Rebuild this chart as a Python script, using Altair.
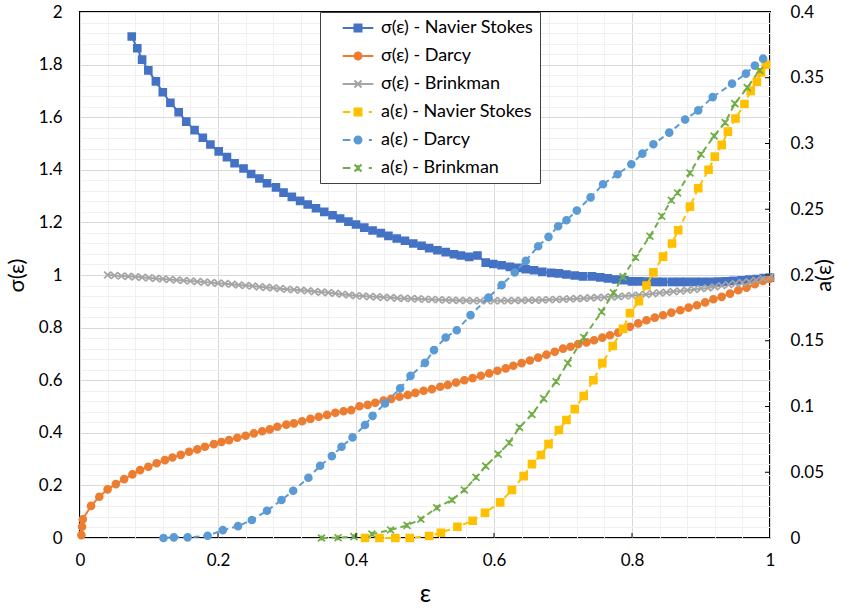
import altair as alt
import pandas as pd

FONT = "Lato"
W, H = 690, 526

SERIES = [
    "σ(ε) - Navier Stokes",
    "σ(ε) - Darcy",
    "σ(ε) - Brinkman",
    "a(ε) - Navier Stokes",
    "a(ε) - Darcy",
    "a(ε) - Brinkman",
]
COLORS = ["#4472C4", "#ED7D31", "#A5A5A5", "#FFC000", "#5B9BD5", "#70AD47"]

# ---- σ(ε), left axis ----
ns_sigma_eps = [0.075, 0.083, 0.090, 0.099, 0.110, 0.120, 0.131, 0.143, 0.154, 0.166,
                0.178, 0.189, 0.201, 0.213, 0.224, 0.237, 0.248, 0.260, 0.271, 0.284,
                0.295, 0.307, 0.319, 0.330, 0.342, 0.354, 0.366, 0.377, 0.389, 0.400,
                0.412, 0.424, 0.436, 0.447, 0.459, 0.471, 0.483, 0.495, 0.506, 0.518,
                0.530, 0.542, 0.552, 0.564, 0.576, 0.588, 0.599, 0.611, 0.623, 0.635,
                0.646, 0.658, 0.670, 0.683, 0.694, 0.705, 0.717, 0.729, 0.742, 0.754,
                0.765, 0.777, 0.789, 0.800, 0.812, 0.824, 0.835, 0.845, 0.858, 0.869,
                0.879, 0.891, 0.902, 0.913, 0.925, 0.936, 0.947, 0.959, 0.970, 0.981,
                0.991, 1.000]
ns_sigma_val = [1.907, 1.862, 1.819, 1.778, 1.736, 1.695, 1.655, 1.619, 1.583, 1.551,
                1.522, 1.496, 1.470, 1.448, 1.425, 1.405, 1.384, 1.367, 1.349, 1.333,
                1.313, 1.297, 1.282, 1.268, 1.254, 1.240, 1.227, 1.215, 1.203, 1.192,
                1.180, 1.169, 1.159, 1.149, 1.139, 1.130, 1.120, 1.111, 1.102, 1.094,
                1.087, 1.079, 1.074, 1.069, 1.074, 1.047, 1.042, 1.037, 1.031, 1.027,
                1.022, 1.018, 1.012, 1.008, 1.006, 1.002, 0.998, 0.995, 0.995, 0.991,
                0.987, 0.983, 0.980, 0.976, 0.976, 0.975, 0.974, 0.974, 0.974, 0.974,
                0.974, 0.974, 0.974, 0.974, 0.975, 0.976, 0.978, 0.980, 0.983, 0.985,
                0.988, 0.990]

darcy_sigma_eps = [0.002, 0.003, 0.004, 0.016, 0.028, 0.040, 0.052, 0.064, 0.076, 0.087,
                   0.099, 0.111, 0.123, 0.134, 0.146, 0.158, 0.170, 0.181, 0.194, 0.205,
                   0.216, 0.228, 0.240, 0.252, 0.264, 0.275, 0.286, 0.299, 0.310, 0.322,
                   0.334, 0.346, 0.358, 0.370, 0.382, 0.393, 0.405, 0.417, 0.428, 0.440,
                   0.451, 0.463, 0.475, 0.486, 0.498, 0.510, 0.522, 0.533, 0.545, 0.557,
                   0.569, 0.581, 0.593, 0.605, 0.617, 0.628, 0.640, 0.652, 0.664, 0.676,
                   0.688, 0.700, 0.711, 0.722, 0.734, 0.745, 0.757, 0.768, 0.780, 0.797,
                   0.809, 0.821, 0.833, 0.845, 0.857, 0.870, 0.882, 0.894, 0.906, 0.918,
                   0.930, 0.942, 0.954, 0.966, 0.978, 0.990, 1.000]
darcy_sigma_val = [0.011, 0.043, 0.071, 0.122, 0.157, 0.185, 0.205, 0.224, 0.242, 0.258,
                   0.271, 0.284, 0.296, 0.306, 0.316, 0.328, 0.337, 0.347, 0.357, 0.365,
                   0.372, 0.381, 0.389, 0.398, 0.406, 0.413, 0.423, 0.431, 0.436, 0.444,
                   0.453, 0.461, 0.468, 0.476, 0.482, 0.486, 0.501, 0.506, 0.514, 0.523,
                   0.529, 0.537, 0.544, 0.552, 0.560, 0.566, 0.575, 0.582, 0.591, 0.600,
                   0.608, 0.617, 0.626, 0.636, 0.645, 0.655, 0.665, 0.675, 0.686, 0.697,
                   0.708, 0.720, 0.727, 0.737, 0.744, 0.752, 0.762, 0.771, 0.781, 0.803,
                   0.816, 0.828, 0.838, 0.847, 0.857, 0.866, 0.876, 0.885, 0.896, 0.908,
                   0.917, 0.929, 0.942, 0.952, 0.965, 0.977, 0.986]

brink_sigma_eps = [round(0.04 + 0.01 * i, 2) for i in range(97)]
brink_sigma_val = [1.000, 0.998, 0.996, 0.995, 0.993, 0.991, 0.989, 0.987, 0.985, 0.983,
                   0.981, 0.979, 0.977, 0.975, 0.973, 0.971, 0.969, 0.967, 0.965, 0.962,
                   0.960, 0.958, 0.955, 0.953, 0.951, 0.948, 0.946, 0.944, 0.942, 0.940,
                   0.937, 0.935, 0.933, 0.930, 0.927, 0.924, 0.921, 0.920, 0.918, 0.917,
                   0.915, 0.914, 0.912, 0.911, 0.910, 0.909, 0.908, 0.907, 0.906, 0.905,
                   0.904, 0.903, 0.903, 0.902, 0.902, 0.902, 0.902, 0.902, 0.902, 0.903,
                   0.903, 0.904, 0.904, 0.905, 0.906, 0.907, 0.908, 0.909, 0.910, 0.911,
                   0.913, 0.914, 0.915, 0.917, 0.918, 0.920, 0.922, 0.924, 0.926, 0.929,
                   0.932, 0.934, 0.937, 0.939, 0.942, 0.945, 0.948, 0.951, 0.955, 0.959,
                   0.963, 0.967, 0.971, 0.975, 0.980, 0.986, 0.992]

# ---- a(ε), right axis ----
ns_a_eps = [0.413, 0.434, 0.457, 0.478, 0.506, 0.523, 0.547, 0.569, 0.587, 0.609,
            0.626, 0.643, 0.655, 0.668, 0.679, 0.694, 0.705, 0.717, 0.730, 0.744,
            0.757, 0.772, 0.787, 0.797, 0.810, 0.821, 0.831, 0.845, 0.858, 0.867,
            0.884, 0.896, 0.911, 0.920, 0.930, 0.939, 0.950, 0.963, 0.972, 0.981,
            0.987, 0.994]
ns_a_val = [0.000, 0.000, 0.000, 0.000, 0.0015, 0.004, 0.0086, 0.0131, 0.0192, 0.0271,
            0.0365, 0.0471, 0.0562, 0.0631, 0.0714, 0.0821, 0.0897, 0.098, 0.108, 0.120,
            0.133, 0.146, 0.159, 0.171, 0.180, 0.192, 0.202, 0.214, 0.224, 0.234,
            0.252, 0.266, 0.280, 0.290, 0.299, 0.309, 0.319, 0.330, 0.340, 0.347,
            0.354, 0.360]

darcy_a_eps = [0.121, 0.136, 0.156, 0.185, 0.207, 0.229, 0.249, 0.271, 0.292, 0.309,
               0.331, 0.348, 0.365, 0.379, 0.395, 0.413, 0.424, 0.442, 0.464, 0.479,
               0.500, 0.513, 0.530, 0.546, 0.566, 0.592, 0.611, 0.630, 0.646, 0.664,
               0.679, 0.693, 0.705, 0.720, 0.740, 0.758, 0.779, 0.799, 0.815, 0.831,
               0.854, 0.877, 0.896, 0.917, 0.945, 0.965, 0.978, 0.990]
darcy_a_val = [0.000, 0.0005, 0.0005, 0.0017, 0.006, 0.009, 0.0137, 0.0207, 0.0289, 0.0359,
               0.0458, 0.0549, 0.0623, 0.0694, 0.0765, 0.0859, 0.0929, 0.1023, 0.1138, 0.1233,
               0.1332, 0.1429, 0.1525, 0.158, 0.1695, 0.1829, 0.1923, 0.2019, 0.2107, 0.2219,
               0.2290, 0.2371, 0.2416, 0.249, 0.259, 0.269, 0.2766, 0.2842, 0.2923, 0.2994,
               0.3083, 0.3182, 0.3252, 0.3353, 0.3455, 0.3531, 0.3592, 0.3645]

brink_a_eps = [0.350, 0.374, 0.397, 0.423, 0.450, 0.474, 0.494, 0.517, 0.539, 0.557,
               0.574, 0.588, 0.606, 0.622, 0.637, 0.655, 0.672, 0.690, 0.707, 0.730,
               0.756, 0.773, 0.787, 0.805, 0.826, 0.843, 0.857, 0.866, 0.884, 0.900,
               0.919, 0.935, 0.949, 0.967, 0.985]
brink_a_val = [0.000, 0.0002, 0.001, 0.003, 0.0061, 0.0096, 0.0143, 0.023, 0.0289, 0.0365,
               0.0461, 0.0547, 0.0638, 0.0724, 0.0841, 0.094, 0.106, 0.119, 0.133, 0.1525,
               0.172, 0.1864, 0.1986, 0.2133, 0.2295, 0.2447, 0.2568, 0.2624, 0.2776, 0.2918,
               0.3057, 0.3159, 0.3303, 0.3425, 0.3556]

# ---- axis ticks and grid values ----
x_grid_values = [round(0.04 * i, 2) for i in range(26)]
sigma_grid_values = [round(0.04 * i, 2) for i in range(51)]
a_tick_values = [round(0.05 * i, 2) for i in range(9)]
x_inner_ticks = [0.2, 0.4, 0.6, 0.8]
a_inner_ticks = [0.05, 0.1, 0.15, 0.2, 0.25, 0.3, 0.35]


def frame(name, eps, vals):
    return pd.DataFrame({"eps": eps, "v": vals, "series": name})


sigma_df = pd.concat([
    frame(SERIES[0], ns_sigma_eps, ns_sigma_val),
    frame(SERIES[1], darcy_sigma_eps, darcy_sigma_val),
    frame(SERIES[2], brink_sigma_eps, brink_sigma_val),
])
a_df = pd.concat([
    frame(SERIES[3], ns_a_eps, ns_a_val),
    frame(SERIES[4], darcy_a_eps, darcy_a_val),
    frame(SERIES[5], brink_a_eps, brink_a_val),
])

# marker glyphs on the curves (unit-square SVG paths where needed)
X_MARK = "M-1,-1L1,1M-1,1L1,-1"
STAR_MARK = "M-1,-1L1,1M-1,1L1,-1M0,-0.7L0,0.7"
MARKERS = ["square", "circle", X_MARK, "square", "circle", STAR_MARK]

# legend glyphs: a line segment (solid or dashed) with the marker in the middle
m = 0.39
SQ = f"M{-m},{-m}L{m},{-m}L{m},{m}L{-m},{m}Z"
CI = f"M{m},0A{m},{m},0,1,1,{-m},0A{m},{m},0,1,1,{m},0Z"
XX = f"M{-m},{-m}L{m},{m}M{-m},{m}L{m},{-m}"
ST = XX + f"M0,{-m * 0.8}L0,{m * 0.8}"
SOLID = "M-1.7,0L1.7,0"
DASHED = "M-1.7,0L-0.85,0M1.2,0L1.55,0"
LEGEND_GLYPHS = [SOLID + SQ, SOLID + CI, SOLID + XX, DASHED + SQ, DASHED + CI, DASHED + ST]

MAJOR = "abs(datum.value * 5 - round(datum.value * 5)) < 0.001"
GRID_COLOR = {"condition": {"test": MAJOR, "value": "#d9d9d9"}, "value": "#f0f0f0"}

x_axis = alt.Axis(
    values=x_grid_values, grid=True, gridColor=GRID_COLOR, gridWidth=1,
    labelExpr=f"{MAJOR} ? datum.label : ''", format="~g", labelOverlap=False,
    labelFlush=False, ticks=False, domain=False, labelPadding=14,
    title="ε", titleFontSize=25, titlePadding=13,
)
x_enc = alt.X("eps:Q", scale=alt.Scale(domain=[0, 1], nice=False, zero=False), axis=x_axis)

sigma_axis = alt.Axis(
    values=sigma_grid_values, grid=True, gridColor=GRID_COLOR, gridWidth=1,
    labelExpr=f"{MAJOR} ? datum.label : ''", format="~g", labelOverlap=False,
    labelFlush=False, ticks=False, domain=False, labelPadding=18,
    title="σ(ε)", titleFontSize=22, titlePadding=10, orient="left",
)
a_axis = alt.Axis(
    values=a_tick_values, grid=False, format="~g", labelOverlap=False, labelFlush=False,
    ticks=False, domain=False, labelPadding=20, title="a(ε)", titleFontSize=22,
    titlePadding=12, titleAngle=270, orient="right",
)

color_scale = alt.Scale(domain=SERIES, range=COLORS)
marker_scale = alt.Scale(domain=SERIES, range=MARKERS)


def curve_group(df, y_scale, y_axis, dash):
    base = alt.Chart(df).encode(
        x=x_enc,
        y=alt.Y("v:Q", scale=y_scale, axis=y_axis),
    )
    line_kw = {"strokeWidth": 2}
    if dash:
        line_kw["strokeDash"] = dash
    lines = base.mark_line(**line_kw).encode(
        color=alt.Color("series:N", scale=color_scale, legend=None),
        detail="series:N",
        order="eps:Q",
    )
    points = base.mark_point(filled=True, size=48, strokeWidth=1.7, opacity=1).encode(
        fill=alt.Fill("series:N", scale=color_scale, legend=None),
        stroke=alt.Stroke("series:N", scale=color_scale, legend=None),
        shape=alt.Shape("series:N", scale=marker_scale, legend=None),
    )
    return alt.layer(lines, points)


sigma_layer = curve_group(
    sigma_df, alt.Scale(domain=[0, 2], nice=False, zero=True), sigma_axis, None
)
a_layer = curve_group(
    a_df, alt.Scale(domain=[0, 0.4], nice=False, zero=True), a_axis, [6, 4]
)

# small inward ticks on the bottom and right frame
x_ticks = alt.Chart(pd.DataFrame({"t": x_inner_ticks})).mark_rule(
    color="black", strokeWidth=1
).encode(x=alt.X("t:Q", scale=alt.Scale(domain=[0, 1], nice=False), axis=x_axis),
         y=alt.value(H - 5), y2=alt.value(H))

a_ticks = alt.Chart(pd.DataFrame({"t": a_inner_ticks})).mark_rule(
    color="black", strokeWidth=1
).encode(y=alt.Y("t:Q", scale=alt.Scale(domain=[0, 0.4], nice=False), axis=None),
         x=alt.value(W - 5), x2=alt.value(W))

legend_def = alt.Legend(
    title=None, orient="none", legendX=240, legendY=0, direction="vertical",
    fillColor="white", strokeColor="#404040", padding=6, rowPadding=9,
    symbolSize=324, symbolStrokeWidth=2, symbolOffset=22, labelOffset=13,
    symbolOpacity=1, labelFont=FONT, labelFontSize=18, labelColor="black",
    labelLimit=400,
)
glyph_scale = alt.Scale(domain=SERIES, range=LEGEND_GLYPHS)
legend_layer = alt.Chart(pd.DataFrame({"series": SERIES})).mark_point(
    filled=True, opacity=0
).encode(
    fill=alt.Fill("series:N", scale=color_scale, legend=legend_def, sort=SERIES),
    stroke=alt.Stroke("series:N", scale=color_scale, legend=legend_def, sort=SERIES),
    shape=alt.Shape("series:N", scale=glyph_scale, legend=legend_def, sort=SERIES),
)

chart = alt.layer(
    sigma_layer, a_layer, x_ticks, a_ticks, legend_layer
).resolve_scale(
    y="independent", color="independent", fill="independent",
    stroke="independent", shape="independent",
).properties(
    width=W, height=H,
    autosize=alt.AutoSizeParams(type="none"),
    padding={"left": 80, "top": 12, "right": 90, "bottom": 75},
    background="white",
).configure_view(
    stroke="black", strokeWidth=2
).configure_axis(
    labelFont=FONT, labelFontSize=17, labelColor="black",
    titleFont=FONT, titleColor="black", titleFontWeight="normal",
)

chart.save("out.html", embed_options={"renderer": "svg", "actions": False})
